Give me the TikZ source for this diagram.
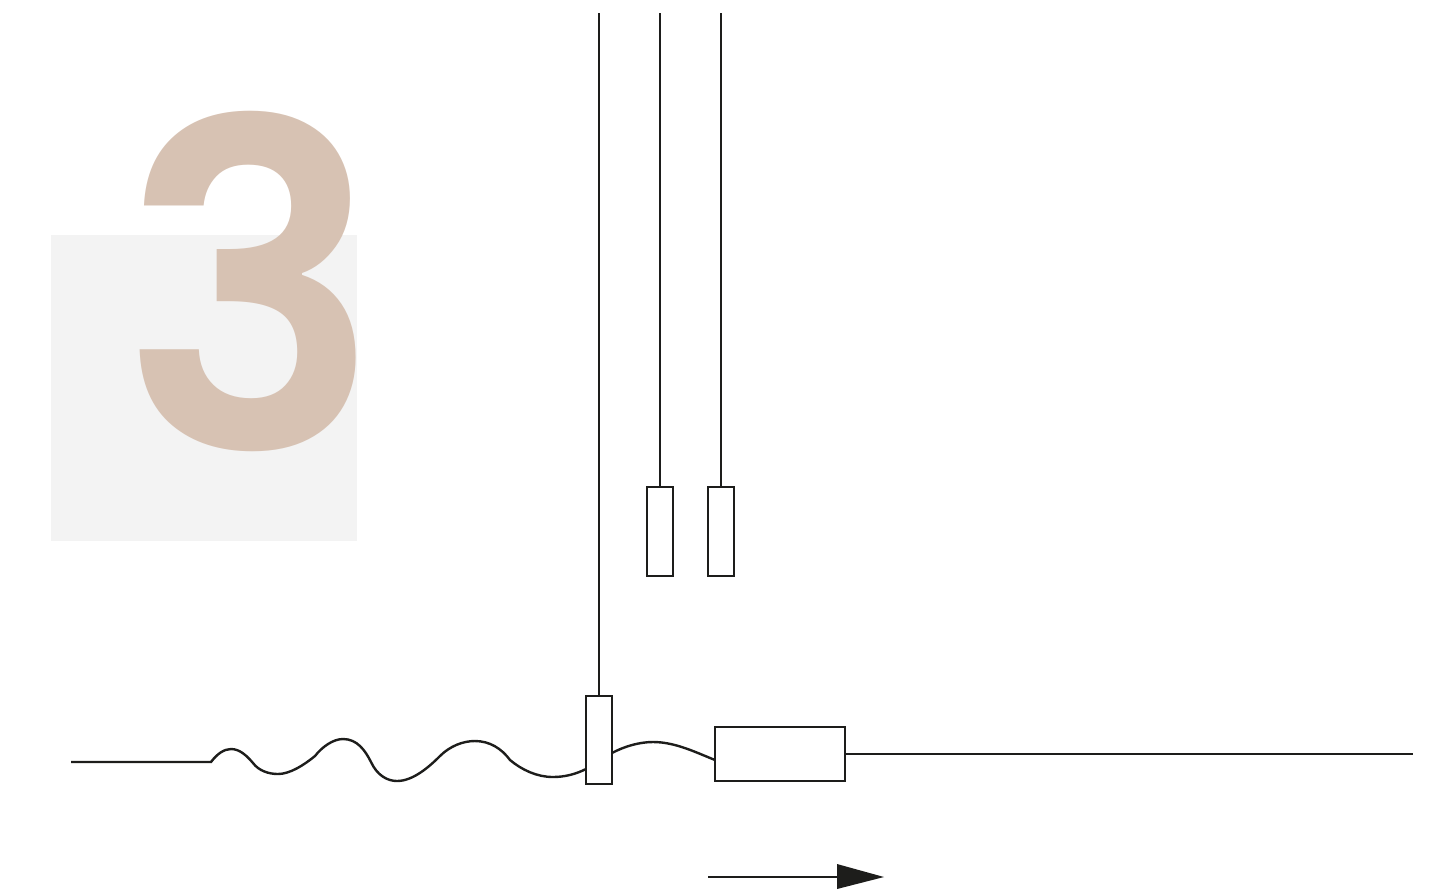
\documentclass[tikz,border=0pt]{standalone}
\usepackage{fontspec}
\usepackage{graphicx}
\newfontfamily\numfont{Poppins SemiBold}
\definecolor{ink}{HTML}{1D1D1B}
\definecolor{panel}{HTML}{F3F3F3}
\definecolor{numcol}{HTML}{D7C2B3}
\tikzset{
  part/.style={draw=ink,line width=1.2pt,fill=white,rectangle,inner sep=0pt,outer sep=0pt,anchor=north west},
  wire/.style={draw=ink,line width=1.2pt},
}
\begin{document}
\begin{tikzpicture}[x=0.5pt,y=-0.5pt]
\useasboundingbox (0,0) rectangle (1430,891);
\fill[panel] (51,235) rectangle (357,541);
\node[anchor=north west,inner sep=0pt,outer sep=0pt,text=numcol] (num) at (120,111)
  {\resizebox{130.3pt}{169pt}{\numfont 3}};
% free ends
\coordinate (t1) at (599,13);
\coordinate (t2) at (660,13);
\coordinate (t3) at (721,13);
\coordinate (w0) at (71,762);
\coordinate (r0) at (1413,754);
\coordinate (a0) at (708,877);
\coordinate (a1) at (837,877);
% parts
\node[part,minimum width=13pt,minimum height=44.5pt] (b2) at (647,487) {};
\node[part,minimum width=13pt,minimum height=44.5pt] (b3) at (708,487) {};
\node[part,minimum width=13pt,minimum height=44pt] (b1) at (586,696) {};
\node[part,minimum width=65pt,minimum height=27pt] (b4) at (715,727) {};
% connectors
\draw[wire] (t1) -- (b1.north);
\draw[wire] (t2) -- (b2.north);
\draw[wire] (t3) -- (b3.north);
\draw[wire] (b4.east) -- (r0);
\draw[wire] (w0) -- (211,762)
  .. controls (217,754) and (224,749) .. (231,749)
  .. controls (240,749) and (247,756) .. (253,763)
  .. controls (259,771) and (269,774) .. (278,774)
  .. controls (290,774) and (304,765) .. (315,756)
  .. controls (322,747) and (333,739) .. (343,739)
  .. controls (357,739) and (365,750) .. (371,762)
  .. controls (377,775) and (387,781) .. (397,781)
  .. controls (413,781) and (429,767) .. (440,756)
  .. controls (450,746) and (463,741) .. (475,741)
  .. controls (490,741) and (502,749) .. (510,760)
  .. controls (522,770) and (537,777) .. (553,777)
  .. controls (565,777) and (576,774) .. (586,769);
\draw[wire] (b1.east |- 0,753) .. controls (625,746) and (640,742) .. (653,742)
  .. controls (675,742) and (695,752) .. (b4.west |- 0,760);
\draw[wire] (a0) -- (a1);
\fill[ink] (837,864) -- (884,877) -- (837,889) -- cycle;
\end{tikzpicture}
\end{document}
